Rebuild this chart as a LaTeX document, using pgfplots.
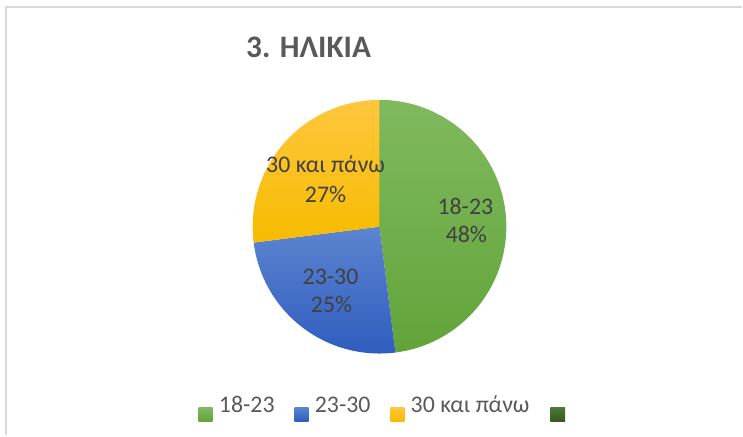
\documentclass[border=0pt]{standalone}
\usepackage{fontspec}
\setmainfont{Carlito}
\usepackage{pgfplots}
\pgfplotsset{compat=1.18}
\usepackage{pgfplotstable}
\definecolor{gtop}{HTML}{80B95E}
\definecolor{gbot}{HTML}{62A43A}
\definecolor{btop}{HTML}{5C84D0}
\definecolor{bbot}{HTML}{2E5CBE}
\definecolor{ytop}{HTML}{FFC73E}
\definecolor{ybot}{HTML}{F6BB00}
\definecolor{dtop}{HTML}{4C7A34}
\definecolor{dbot}{HTML}{36591F}
\definecolor{labtxt}{HTML}{404040}
\definecolor{legtxt}{HTML}{595959}
\definecolor{frame}{HTML}{D9D9D9}

\pgfplotstableread[col sep=comma]{
name,value
18-23,48
23-30,25
30 και πάνω,27
}\agedata
\pgfplotstablegetelem{0}{value}\of\agedata \edef\va{\pgfplotsretval}
\pgfplotstablegetelem{1}{value}\of\agedata \edef\vb{\pgfplotsretval}
\pgfplotstablegetelem{2}{value}\of\agedata \edef\vc{\pgfplotsretval}
\pgfmathsetmacro\da{-3.6*\va}
\pgfmathsetmacro\db{-3.6*\vb}
\pgfmathsetmacro\dc{-3.6*\vc}
\pgfmathsetmacro\sb{90+\da}
\pgfmathsetmacro\sc{\sb+\db}
\def\R{95.25pt}
\newcommand\lab{\fontsize{17.9}{21}\selectfont}

\begin{document}%
\begin{tikzpicture}
\begin{axis}[scale only axis, width=557.25pt, height=327pt,
  xmin=0, xmax=743, ymin=0, ymax=436, hide axis, clip=false]
\path (axis cs:0,0) rectangle (axis cs:743,436);
% frame
\draw[frame, line width=1.5pt] (axis cs:6,0) -- (axis cs:6,429) -- (axis cs:743,429);
% title
\node[anchor=base, inner sep=0, text=legtxt, font=\fontsize{23.5}{28}\selectfont\bfseries] at (axis cs:309,378) {3. ΗΛΙΚΙΑ};
% pie slices
\shade[top color=gtop, bottom color=gbot] (axis cs:380,209) -- ++(90:\R) arc[start angle=90, delta angle=\da, radius=\R] -- cycle;
\shade[top color=btop, bottom color=bbot] (axis cs:380,209) -- ++(\sb:\R) arc[start angle=\sb, delta angle=\db, radius=\R] -- cycle;
\shade[top color=ytop, bottom color=ybot] (axis cs:380,209) -- ++(\sc:\R) arc[start angle=\sc, delta angle=\dc, radius=\R] -- cycle;
% data labels
\node[anchor=base, inner sep=0, text=labtxt, font=\lab] at (axis cs:466,221) {18-23};
\node[anchor=base, inner sep=0, text=labtxt, font=\lab] at (axis cs:467,193) {\va\%};
\node[anchor=base, inner sep=0, text=labtxt, font=\lab] at (axis cs:331,151) {23-30};
\node[anchor=base, inner sep=0, text=labtxt, font=\lab] at (axis cs:332,123) {\vb\%};
\node[anchor=base, inner sep=0, text=labtxt, font=\lab] at (axis cs:326,263) {30 και πάνω};
\node[anchor=base, inner sep=0, text=labtxt, font=\lab] at (axis cs:326,233) {\vc\%};
% legend
\shade[top color=gtop, bottom color=gbot] (axis cs:199,14) rectangle (axis cs:213,28);
\node[anchor=base west, inner sep=0, text=legtxt, font=\lab] at (axis cs:219,23) {18-23};
\shade[top color=btop, bottom color=bbot] (axis cs:295,14) rectangle (axis cs:309,28);
\node[anchor=base west, inner sep=0, text=legtxt, font=\lab] at (axis cs:315,23) {23-30};
\shade[top color=ytop, bottom color=ybot] (axis cs:391,14) rectangle (axis cs:405,28);
\node[anchor=base west, inner sep=0, text=legtxt, font=\lab] at (axis cs:411,23) {30 και πάνω};
\shade[top color=dtop, bottom color=dbot] (axis cs:551,14) rectangle (axis cs:566,28);
\end{axis}
\end{tikzpicture}%
\end{document}
